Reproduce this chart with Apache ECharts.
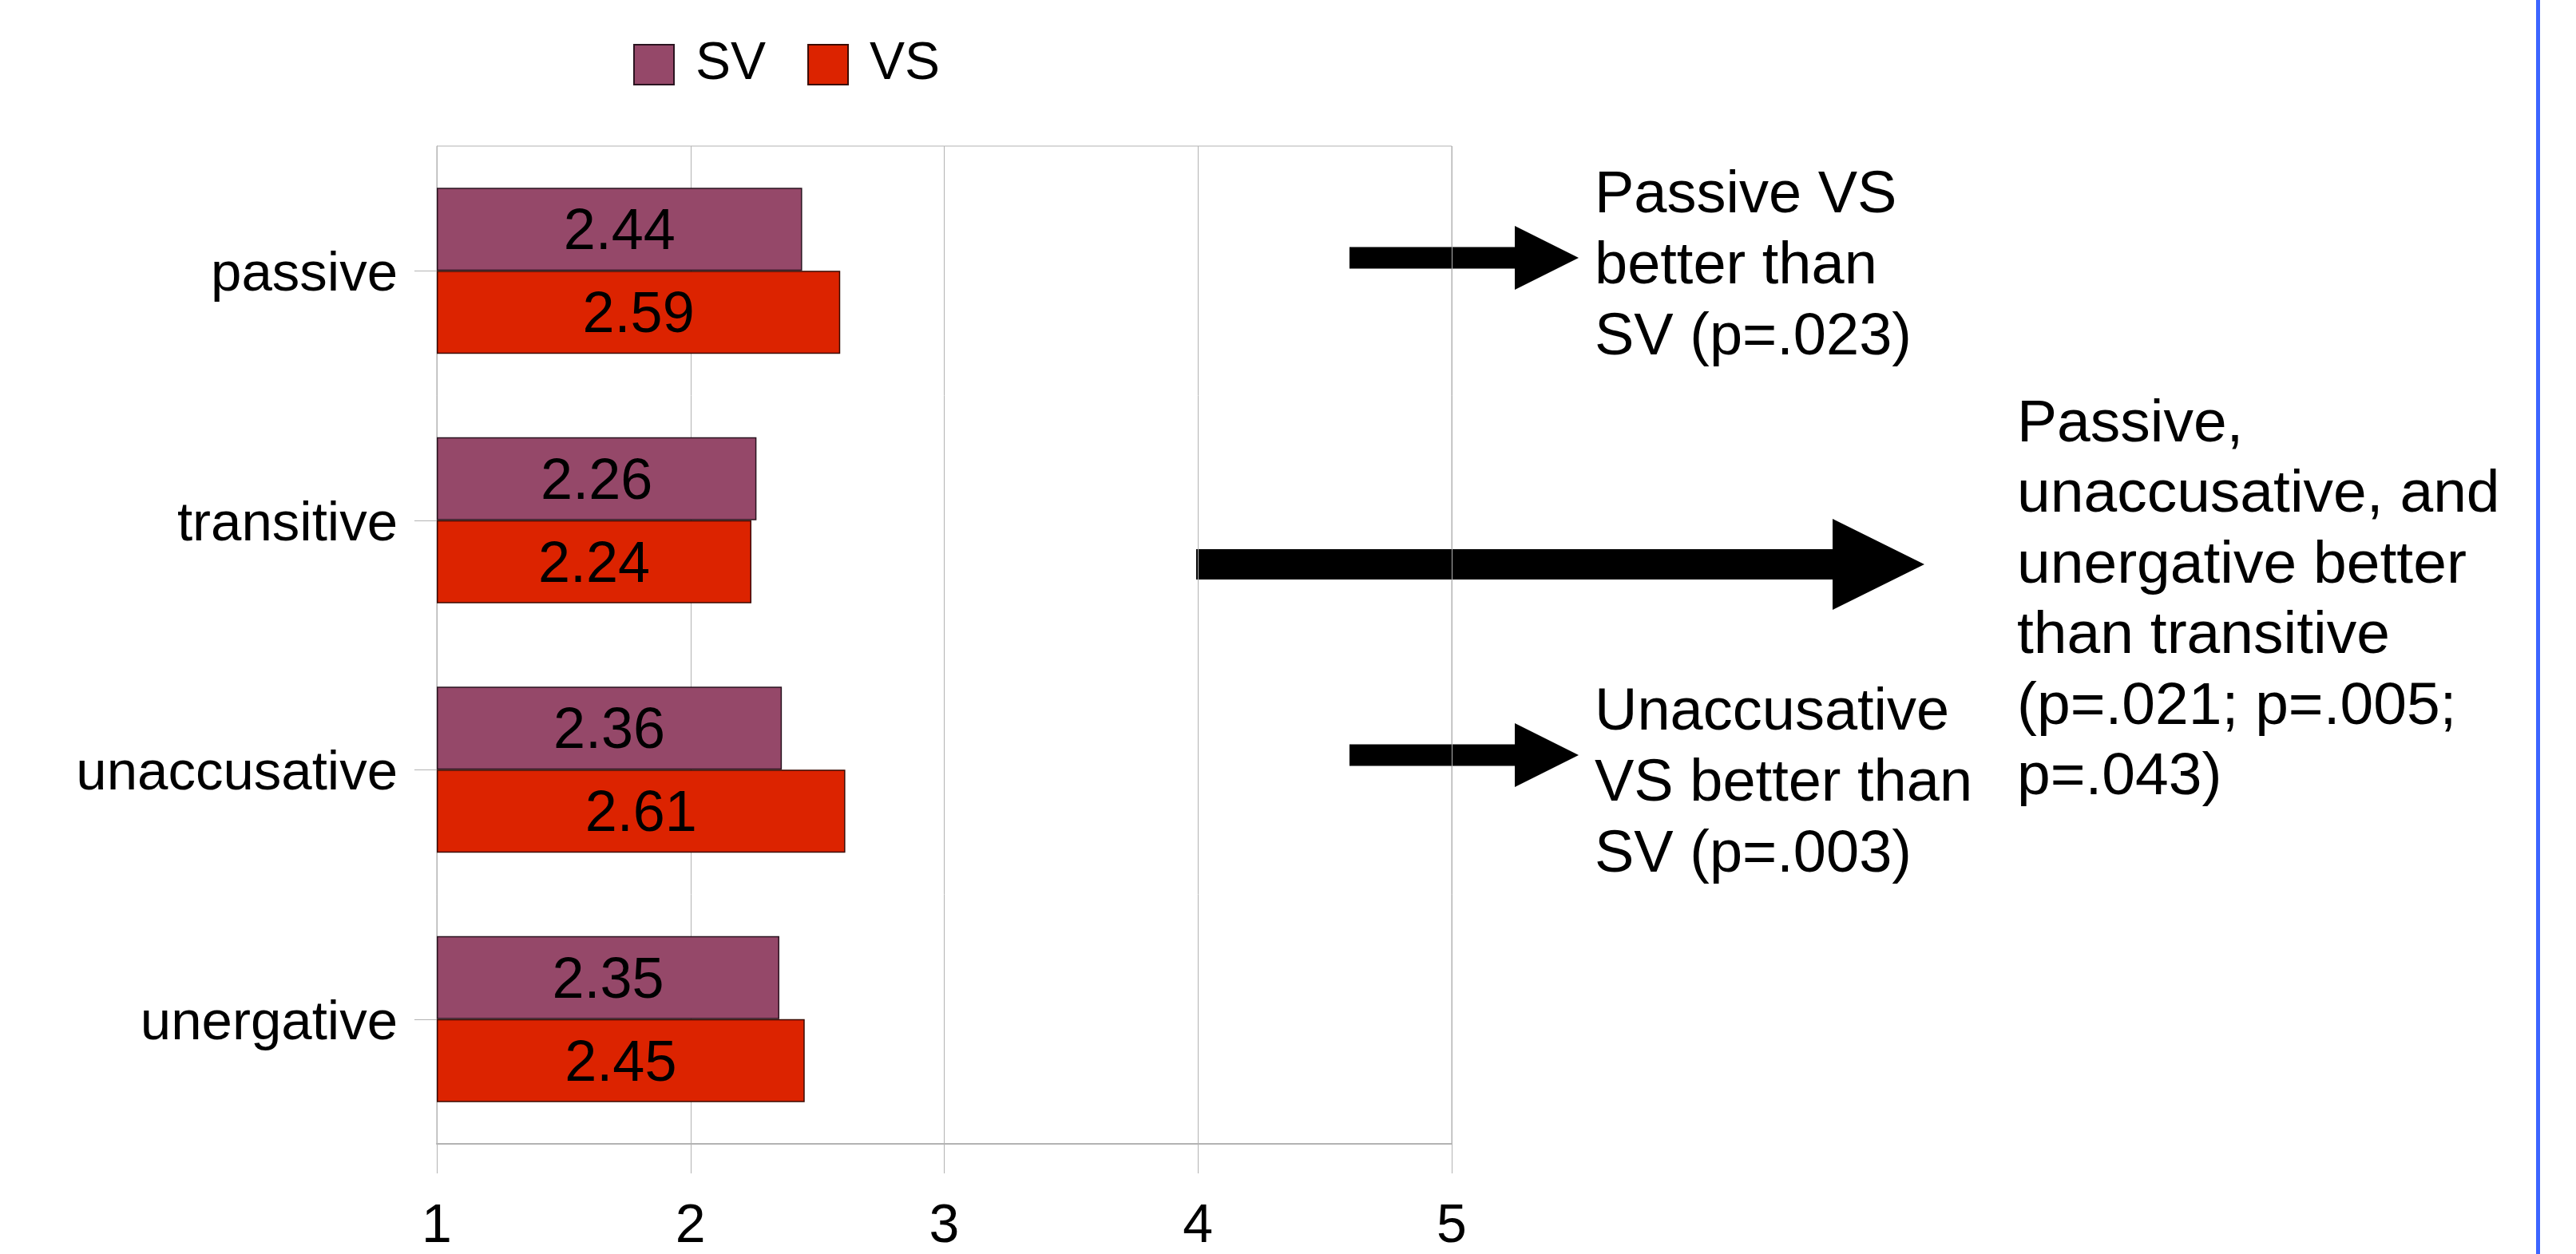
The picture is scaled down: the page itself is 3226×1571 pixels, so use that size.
<!DOCTYPE html>
<html>
<head>
<meta charset="utf-8">
<script src="https://cdn.jsdelivr.net/npm/echarts@6/dist/echarts.min.js"></script>
<style>
html,body{margin:0;padding:0;background:#fff;}
#chart{width:3226px;height:1571px;}
</style>
</head>
<body>
<div id="chart"></div>
<script>
var categories = ['passive', 'transitive', 'unaccusative', 'unergative'];
var seriesNames = ['SV', 'VS'];
var svValues = [2.44, 2.26, 2.36, 2.35];
var vsValues = [2.59, 2.24, 2.61, 2.45];
var xTicks = [1, 2, 3, 4, 5];
var noteSmall1 = 'Passive VS\nbetter than\nSV (p=.023)';
var noteSmall2 = 'Unaccusative\nVS better than\nSV (p=.003)';
var noteBig = 'Passive,\nunaccusative, and\nunergative better\nthan transitive\n(p=.021; p=.005;\np=.043)';

var FONT = '"Liberation Sans", Arial, sans-serif';
var chart = echarts.init(document.getElementById('chart'), null, {renderer: 'canvas'});

function arrowPoints(x0, xb, xt, cy, shaftH, headH) {
  return [[x0, cy - shaftH / 2], [xb, cy - shaftH / 2], [xb, cy - headH / 2], [xt, cy],
          [xb, cy + headH / 2], [xb, cy + shaftH / 2], [x0, cy + shaftH / 2]];
}

var labelCfg = {
  show: true, position: 'inside', offset: [0, 5], fontSize: 72, color: '#000', fontFamily: FONT,
  formatter: function (p) { return Number(p.value).toFixed(2); }
};

var option = {
  backgroundColor: '#fff',
  animation: false,
  textStyle: {fontFamily: FONT},
  legend: {
    left: 793, top: 48, padding: 0, itemGap: 52,
    itemWidth: 50, itemHeight: 50, icon: 'rect',
    textStyle: {fontSize: 66, color: '#000', fontFamily: FONT, padding: [0, 0, 0, 22]},
    data: seriesNames
  },
  grid: {
    left: 547, right: 1408, top: 183, bottom: 131,
    show: true, borderColor: '#b3b3b3', borderWidth: 1, containLabel: false
  },
  xAxis: {
    type: 'value', min: xTicks[0], max: xTicks[xTicks.length - 1], interval: 1, startValue: 1,
    axisLine: {show: true, lineStyle: {color: '#b3b3b3', width: 2}},
    axisTick: {show: true, length: 37, lineStyle: {color: '#b3b3b3', width: 1}},
    splitLine: {show: true, lineStyle: {color: '#b3b3b3', width: 1}},
    axisLabel: {fontSize: 68, color: '#000', margin: 70, fontFamily: FONT}
  },
  yAxis: {
    type: 'category', data: categories, inverse: true,
    axisLine: {show: true, lineStyle: {color: '#b3b3b3', width: 1}},
    axisTick: {show: true, alignWithLabel: true, length: 28, lineStyle: {color: '#b3b3b3', width: 1}},
    axisLabel: {
      color: '#000', margin: 49, fontFamily: FONT,
      formatter: '{c|{value}}',
      rich: {c: {fontSize: 69, color: '#000', fontFamily: FONT, padding: [12, 0, 0, 0]}}
    },
    splitLine: {show: false}
  },
  series: [
    {
      name: seriesNames[0], type: 'bar', data: svValues,
      barGap: '0%', barCategoryGap: '33.5%',
      itemStyle: {color: '#954869', borderColor: '#2a1420', borderWidth: 1.5},
      label: labelCfg
    },
    {
      name: seriesNames[1], type: 'bar', data: vsValues,
      barGap: '0%', barCategoryGap: '33.5%',
      itemStyle: {color: '#DC2300', borderColor: '#3a0a00', borderWidth: 1.5},
      label: labelCfg
    }
  ],
  graphic: [
    {type: 'polygon', shape: {points: arrowPoints(1690, 1897, 1977, 323, 27, 80)}, style: {fill: '#000'}},
    {type: 'polygon', shape: {points: arrowPoints(1690, 1897, 1977, 946, 27, 80)}, style: {fill: '#000'}},
    {type: 'polygon', shape: {points: arrowPoints(1498, 2295, 2410, 707, 38, 114)}, style: {fill: '#000'}},
    {type: 'text', left: 1997, top: 201, style: {text: noteSmall1, font: '74px ' + FONT, fill: '#000', lineHeight: 89}},
    {type: 'text', left: 1997, top: 849, style: {text: noteSmall2, font: '74px ' + FONT, fill: '#000', lineHeight: 89}},
    {type: 'text', left: 2526, top: 488, style: {text: noteBig, font: '75px ' + FONT, fill: '#000', lineHeight: 88.5}},
    {type: 'rect', shape: {x: 3176, y: 0, width: 5, height: 1571}, style: {fill: '#3d66ff'}}
  ]
};
chart.setOption(option);
</script>
</body>
</html>
